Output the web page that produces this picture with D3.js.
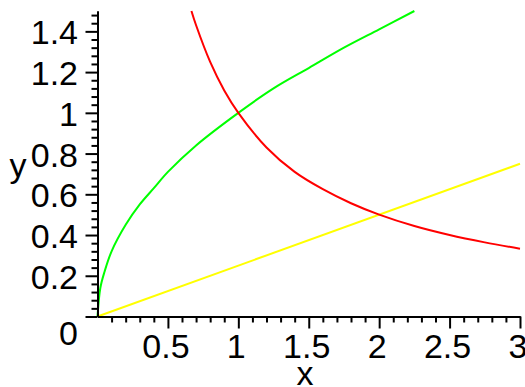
<!doctype html>
<html>
  <head>
    <meta charset="utf-8">
    <script src="https://cdn.jsdelivr.net/npm/d3@7"></script>
    <style>
      body { margin: 0; background: white; }
      text { font-family: "Liberation Sans", Arial, sans-serif; font-size: 34px; fill: black; }
    </style>
  </head>
  <body>
    <svg width="525" height="387"></svg>

  <script>
    let width = 525,
        height = 387

    // points
    let greenX = [0, 0.02, 0.05, 0.1, 0.2, 0.3, 0.4, 0.5, 0.7, 1, 1.25, 1.5, 1.75, 2, 2.25]
    let greenY = [0, 0.14, 0.22, 0.32, 0.45, 0.55, 0.63, 0.71, 0.84, 1, 1.12, 1.22, 1.32, 1.41, 1.5]

    let redX = [0.667, 0.7, 0.8, 0.9, 1, 1.2, 1.4, 1.6, 1.8, 2, 2.25, 2.5, 2.75, 3]
    let redY = [1.5, 1.43, 1.25, 1.11, 1, 0.83, 0.71, 0.625, 0.556, 0.5, 0.444, 0.4, 0.364, 0.333]

    let yellowX = [0, 3]
    let yellowY = [0, 0.75]

    let xTicks = [0.5, 1, 1.5, 2, 2.5, 3]
    let xTickLabels = ["0.5", "1", "1.5", "2", "2.5", "3"]
    let yTicks = [0, 0.2, 0.4, 0.6, 0.8, 1, 1.2, 1.4]
    let yTickLabels = ["0", "0.2", "0.4", "0.6", "0.8", "1", "1.2", "1.4"]
    let xMinor = d3.range(1, 30).map(i => i / 10).filter(v => Math.round(v * 10) % 5 != 0)
    let yMinor = d3.range(1, 38).map(i => i * 0.04).filter(v => Math.round(v * 100) % 20 != 0)

    let svg = d3.select("svg")

    let x = d3.scaleLinear().domain([0, 3]).range([97.5, 520])
    let y = d3.scaleLinear().domain([0, 1.5]).range([316.5, 11])

    let line = d3.line()
                 .x(d => x(d[0]))
                 .y(d => y(d[1]))
                 .curve(d3.curveCatmullRom.alpha(0.5))

    let series = [
      { xs: greenX, ys: greenY, color: "#00ff00" },
      { xs: yellowX, ys: yellowY, color: "#ffff00" },
      { xs: redX, ys: redY, color: "#ff0000" }
    ]

    svg.append("g")
      .selectAll("path")
      .data(series)
      .enter().append("path")
        .attr("d", s => line(s.xs.map((v, i) => [v, s.ys[i]])))
        .attr("fill", "none")
        .attr("stroke", s => s.color)
        .attr("stroke-width", 2)

    // axes: minor ticks, then major ticks
    function styleAxis(g) {
      g.selectAll("path, line").attr("stroke", "black").attr("stroke-width", 2)
      g.selectAll("text").remove()
    }

    svg.append("g")
        .attr("transform", `translate(0,${y(0)})`)
        .call(d3.axisBottom(x).tickValues(xMinor).tickSize(6).tickSizeOuter(0).tickFormat(""))
        .call(styleAxis)
    svg.append("g")
        .attr("transform", `translate(0,${y(0)})`)
        .call(d3.axisBottom(x).tickValues(xTicks).tickSize(12).tickSizeOuter(0).tickFormat(""))
        .call(styleAxis)

    svg.append("g")
        .attr("transform", `translate(${x(0)},0)`)
        .call(d3.axisLeft(y).tickValues(yMinor).tickSize(6).tickSizeOuter(0).tickFormat(""))
        .call(styleAxis)
    svg.append("g")
        .attr("transform", `translate(${x(0)},0)`)
        .call(d3.axisLeft(y).tickValues(yTicks).tickSize(12).tickSizeOuter(0).tickFormat(""))
        .call(styleAxis)

    // tick labels
    svg.append("g")
      .selectAll("text")
      .data(xTicks)
      .enter().append("text")
        .attr("x", d => x(d) - 2)
        .attr("y", 358)
        .attr("text-anchor", "middle")
        .text((d, i) => xTickLabels[i])

    svg.append("g")
      .selectAll("text")
      .data(yTicks)
      .enter().append("text")
        .attr("x", 78)
        .attr("y", d => d == 0 ? 345 : y(d) + 13)
        .attr("text-anchor", "end")
        .text((d, i) => yTickLabels[i])

    svg.append("text")
        .attr("x", 305)
        .attr("y", 385)
        .attr("text-anchor", "middle")
        .text("x")

    svg.append("text")
        .attr("x", 18)
        .attr("y", 177)
        .attr("text-anchor", "middle")
        .text("y")
  </script>
  </body>
</html>
